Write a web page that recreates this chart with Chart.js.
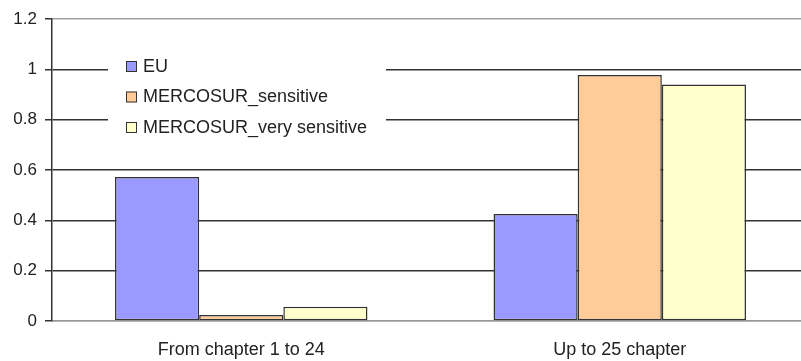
<!DOCTYPE html>
<html>
<head>
<meta charset="utf-8">
<script src="https://cdn.jsdelivr.net/npm/chart.js@4/dist/chart.umd.min.js"></script>
<style>
  html, body { margin: 0; padding: 0; background: #fff; overflow: hidden; }
  #wrap { width: 812px; height: 361px; position: relative; }
</style>
</head>
<body>
<div id="wrap"><canvas id="grafico"></canvas></div>
<script>
var categorias = ['From chapter 1 to 24', 'Up to 25 chapter'];
var nomesSeries = ['EU', 'MERCOSUR_sensitive', 'MERCOSUR_very sensitive'];
var valoresEU = [0.572, 0.425];
var valoresSensitive = [0.024, 0.977];
var valoresVerySensitive = [0.057, 0.940];
var coresSeries = ['#9999ff', '#ffcc99', '#ffffcc'];

var fonteTexto = "'Liberation Sans', Arial, sans-serif";

// legenda desenhada dentro da área do gráfico, com fundo branco
const legendaInterna = {
    id: 'legendaInterna',
    afterDraw(chart) {
        const ctx = chart.ctx;
        const x0 = 108, y0 = 50, largura = 278, altura = 92;
        ctx.save();
        ctx.fillStyle = '#ffffff';
        ctx.fillRect(x0, y0, largura, altura);
        ctx.font = '18px ' + fonteTexto;
        ctx.textBaseline = 'middle';
        chart.data.datasets.forEach(function (ds, i) {
            const yc = 66 + i * 30.5;
            ctx.fillStyle = ds.backgroundColor;
            ctx.fillRect(126, yc - 5, 11, 11);
            ctx.strokeStyle = '#333333';
            ctx.lineWidth = 1;
            ctx.strokeRect(126.5, yc - 4.5, 10, 10);
            ctx.fillStyle = '#222222';
            ctx.fillText(ds.label, 143, yc + 1);
        });
        ctx.restore();
    }
};

var ctx = document.getElementById('grafico').getContext('2d');
var grafico = new Chart(ctx, {
    type: 'bar',
    data: {
        labels: categorias,
        datasets: [
            { label: nomesSeries[0], data: valoresEU, backgroundColor: coresSeries[0] },
            { label: nomesSeries[1], data: valoresSensitive, backgroundColor: coresSeries[1] },
            { label: nomesSeries[2], data: valoresVerySensitive, backgroundColor: coresSeries[2] }
        ]
    },
    options: {
        responsive: true,
        maintainAspectRatio: false,
        animation: false,
        layout: { padding: { top: 19, right: 3, left: 0, bottom: 0 } },
        datasets: {
            bar: {
                borderColor: '#333333',
                borderWidth: 1.5,
                borderSkipped: false,
                categoryPercentage: 0.667,
                barPercentage: 1
            }
        },
        plugins: {
            legend: { display: false },
            tooltip: { enabled: false }
        },
        scales: {
            x: {
                grid: { display: false },
                border: { display: true, color: '#999999', width: 1.5 },
                ticks: { color: '#222222', font: { family: fonteTexto, size: 18 }, padding: 10 },
                afterFit: function (scale) { scale.height = 40; }
            },
            y: {
                min: 0,
                max: 1.2,
                ticks: {
                    stepSize: 0.2,
                    color: '#222222',
                    font: { family: fonteTexto, size: 17 },
                    padding: 8,
                    callback: function (v) { return String(Math.round(v * 10) / 10); }
                },
                grid: {
                    color: function (c) {
                        var v = Math.round(c.tick.value * 10) / 10;
                        return (v === 1.2 || v === 0) ? '#a0a0a0' : '#333333';
                    },
                    lineWidth: 1.5,
                    tickLength: 7,
                    tickColor: '#333333'
                },
                border: { display: true, color: '#333333', width: 1.5 },
                afterFit: function (scale) { scale.width = 52; }
            }
        }
    },
    plugins: [legendaInterna]
});
</script>
</body>
</html>
